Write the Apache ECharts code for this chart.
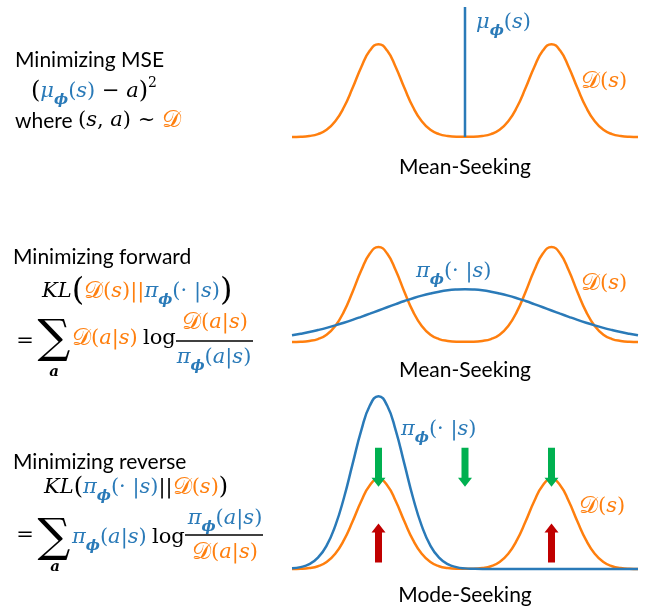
<!DOCTYPE html>
<html>
<head>
<meta charset="utf-8">
<script src="https://cdn.jsdelivr.net/npm/echarts@6/dist/echarts.min.js"></script>
<style>html,body{margin:0;padding:0;background:#fff}#c{width:649px;height:608px}</style>
</head>
<body>
<div id="c"></div>
<script>
// ---- data ----
const xs = [-4,-3.8,-3.6,-3.4,-3.2,-3,-2.8,-2.6,-2.4,-2.2,-2,-1.8,-1.6,-1.4,-1.2,-1,-0.8,-0.6,-0.4,-0.2,0,
            0.2,0.4,0.6,0.8,1,1.2,1.4,1.6,1.8,2,2.2,2.4,2.6,2.8,3,3.2,3.4,3.6,3.8,4];
// D(s): bimodal data distribution (same shape in all three panels)
const distD = [0.001,0.003,0.011,0.031,0.077,0.169,0.320,0.527,0.752,0.931,1.000,0.931,0.752,0.527,0.320,0.169,0.077,0.031,0.011,0.003,0.002,
               0.003,0.011,0.031,0.077,0.169,0.320,0.527,0.752,0.931,1.000,0.931,0.752,0.527,0.320,0.169,0.077,0.031,0.011,0.003,0.001];
// panel 1: mu_phi(s) vertical line
const muX = [0, 0];
const muY = [0, 1.4];
// panel 2: broad pi_phi (forward KL)
const piForward = [0.071,0.087,0.105,0.126,0.149,0.175,0.203,0.233,0.265,0.298,0.332,0.366,0.399,0.431,0.461,0.488,0.511,0.530,0.544,0.552,0.555,
                   0.552,0.544,0.530,0.511,0.488,0.461,0.431,0.399,0.366,0.332,0.298,0.265,0.233,0.203,0.175,0.149,0.126,0.105,0.087,0.071];
// panel 3: narrow pi_phi (reverse KL)
const piReverse = [0.007,0.021,0.055,0.126,0.260,0.479,0.789,1.165,1.537,1.816,1.920,1.816,1.537,1.165,0.789,0.479,0.260,0.126,0.055,0.021,0.007,
                   0.002,0,0,0,0,0,0,0,0,0,0,0,0,0,0,0,0,0,0,0];
// panel 3 arrows
const greenArrowX = [-2, 0, 2];
const greenArrowY = [1.13, 1.13, 1.13];
const redArrowX = [-2, 2];
const redArrowY = [0.29, 0.29];

// ---- styles ----
const ORANGE = '#ff7f0e';
const BLUE = '#2a7ab8';
const GREEN = '#00b050';
const RED = '#c00000';
const MF = '"DejaVu Serif", serif';
const TF = 'Lato, "Open Sans", sans-serif';
const SCRIPT_D = '\u{1D49F}';
const FS = 21;

const rich = {
  t:   {fontFamily: TF, fontSize: 21, fill: '#000', lineHeight: 32},
  m:   {fontFamily: MF, fontStyle: 'italic', fontSize: FS, fill: '#000', lineHeight: 32},
  mu:  {fontFamily: MF, fontSize: FS, fill: '#000', lineHeight: 32},
  o:   {fontFamily: MF, fontStyle: 'italic', fontSize: FS, fill: ORANGE, lineHeight: 32},
  od:  {fontFamily: MF, fontSize: 24, fill: ORANGE, lineHeight: 32},
  ou:  {fontFamily: MF, fontSize: FS, fill: ORANGE, lineHeight: 32},
  b:   {fontFamily: MF, fontStyle: 'italic', fontSize: FS, fill: BLUE, lineHeight: 32},
  bu:  {fontFamily: MF, fontSize: FS, fill: BLUE, lineHeight: 32},
  bs:  {fontFamily: MF, fontStyle: 'italic', fontWeight: 'bold', fontSize: 15, fill: BLUE, lineHeight: 15, verticalAlign: 'bottom'},
  sup: {fontFamily: MF, fontSize: 14, fill: '#000', lineHeight: 11, verticalAlign: 'top'},
  bp:  {fontFamily: MF, fontSize: 32, fill: '#000', lineHeight: 32},
  mp:  {fontFamily: MF, fontSize: 24, fill: '#000', lineHeight: 32}
};

function txt(x, y, text, align) {
  return {type: 'text', x: x, y: y, silent: true,
          style: {text: text, rich: rich, align: align || 'left', verticalAlign: 'middle', fontFamily: MF, fontSize: FS}};
}
function hline(x1, x2, y) {
  return {type: 'line', silent: true, shape: {x1: x1, y1: y, x2: x2, y2: y}, style: {stroke: '#000', lineWidth: 1.5}};
}

const Dtok = '{od|' + SCRIPT_D + '}';
const DofS = Dtok + '{ou|(}{o|s}{ou|)}';
const DofAS = Dtok + '{ou|(}{o|a}{ou||}{o|s}{ou|)}';
const piDotS = '{b|π}{bs|ϕ}{bu|(· |}{b|s}{bu|)}';
const piAS = '{b|π}{bs|ϕ}{bu|(}{b|a}{bu||}{b|s}{bu|)}';
const muS = '{b|μ}{bs|ϕ}{bu|(}{b|s}{bu|)}';

const elements = [
  // left: MSE
  txt(15, 60, '{t|Minimizing MSE}'),
  txt(31, 92, '{mp|(}' + muS + '{mu| − }{m|a}{mp|)}{sup|2}'),
  txt(15, 121, '{t|where }{mu|(}{m|s}{mu|, }{m|a}{mu|)}{mu| ~ }' + Dtok),
  // left: forward KL
  txt(13, 257, '{t|Minimizing forward}'),
  txt(42, 292, '{m|KL}{bp|(}' + Dtok + '{ou|(}{o|s}{ou|)||}' + piDotS + '{bp|)}'),
  txt(25, 342, '{mu|=}', 'center'),
  {type: 'text', x: 54, y: 340, silent: true, style: {text: '∑', fontFamily: MF, fontSize: 46, fill: '#000', align: 'center', verticalAlign: 'middle'}},
  {type: 'text', x: 54, y: 372, silent: true, style: {text: 'a', fontFamily: MF, fontStyle: 'italic', fontWeight: 'bold', fontSize: 15, fill: '#000', align: 'center', verticalAlign: 'middle'}},
  txt(72, 339, DofAS),
  txt(143, 339, '{mu|log}'),
  txt(215, 323, DofAS, 'center'),
  hline(176, 253, 341),
  txt(214, 358, piAS, 'center'),
  // left: reverse KL
  txt(13, 462, '{t|Minimizing reverse}'),
  txt(44, 488, '{m|KL}{mp|(}' + piDotS + '{mu|||}' + DofS + '{mp|)}'),
  txt(25, 536, '{mu|=}', 'center'),
  {type: 'text', x: 54, y: 539, silent: true, style: {text: '∑', fontFamily: MF, fontSize: 46, fill: '#000', align: 'center', verticalAlign: 'middle'}},
  {type: 'text', x: 55, y: 567, silent: true, style: {text: 'a', fontFamily: MF, fontStyle: 'italic', fontWeight: 'bold', fontSize: 15, fill: '#000', align: 'center', verticalAlign: 'middle'}},
  txt(72, 538, piAS),
  txt(152, 538, '{mu|log}'),
  txt(225, 519, piAS, 'center'),
  hline(185, 263, 535),
  txt(225, 553, DofAS, 'center'),
  // chart labels
  txt(476, 23, muS),
  txt(581, 82, DofS),
  txt(465, 167, '{t|Mean-Seeking}', 'center'),
  txt(416, 272, piDotS),
  txt(581, 284, DofS),
  txt(465, 370, '{t|Mean-Seeking}', 'center'),
  txt(401, 430, piDotS),
  txt(579, 507, DofS),
  txt(465, 595, '{t|Mode-Seeking}', 'center')
];

const pairs = (a, b) => a.map((v, i) => [v, b[i]]);
const GL = 292, GW = 346;
const grids = [
  {left: GL, width: GW, top: 7, height: 130},
  {left: GL, width: GW, top: 247, height: 95},
  {left: GL, width: GW, top: 389, height: 180}
];
const yMax = [1.4, 1, 2];

const lineSeries = (gi, data, color) => ({
  type: 'line', xAxisIndex: gi, yAxisIndex: gi, data: data, smooth: true, showSymbol: false,
  clip: false, silent: true, lineStyle: {color: color, width: 2.5}, itemStyle: {color: color}
});

const downArrow = 'path://M3.5,0 L10.5,0 L10.5,30 L14,30 L7,39 L0,30 L3.5,30 Z';
const upArrow = 'path://M7,0 L14,9 L10.5,9 L10.5,39 L3.5,39 L3.5,9 L0,9 Z';

const option = {
  animation: false,
  backgroundColor: '#fff',
  grid: grids,
  xAxis: grids.map((g, i) => ({gridIndex: i, type: 'value', min: -4, max: 4, show: false})),
  yAxis: grids.map((g, i) => ({gridIndex: i, type: 'value', min: 0, max: yMax[i], show: false})),
  series: [
    lineSeries(0, pairs(xs, distD), ORANGE),
    Object.assign(lineSeries(0, pairs(muX, muY), BLUE), {smooth: false}),
    lineSeries(1, pairs(xs, distD), ORANGE),
    lineSeries(1, pairs(xs, piForward), BLUE),
    lineSeries(2, pairs(xs, distD), ORANGE),
    lineSeries(2, pairs(xs, piReverse), BLUE),
    {type: 'scatter', xAxisIndex: 2, yAxisIndex: 2, data: pairs(greenArrowX, greenArrowY), symbol: downArrow,
     symbolSize: [14, 39], itemStyle: {color: GREEN, opacity: 1}, silent: true, z: 5},
    {type: 'scatter', xAxisIndex: 2, yAxisIndex: 2, data: pairs(redArrowX, redArrowY), symbol: upArrow,
     symbolSize: [14, 39], itemStyle: {color: RED, opacity: 1}, silent: true, z: 5}
  ],
  graphic: {elements: elements}
};

const chart = echarts.init(document.getElementById('c'), null, {renderer: 'canvas'});
chart.setOption(option);
</script>
</body>
</html>
